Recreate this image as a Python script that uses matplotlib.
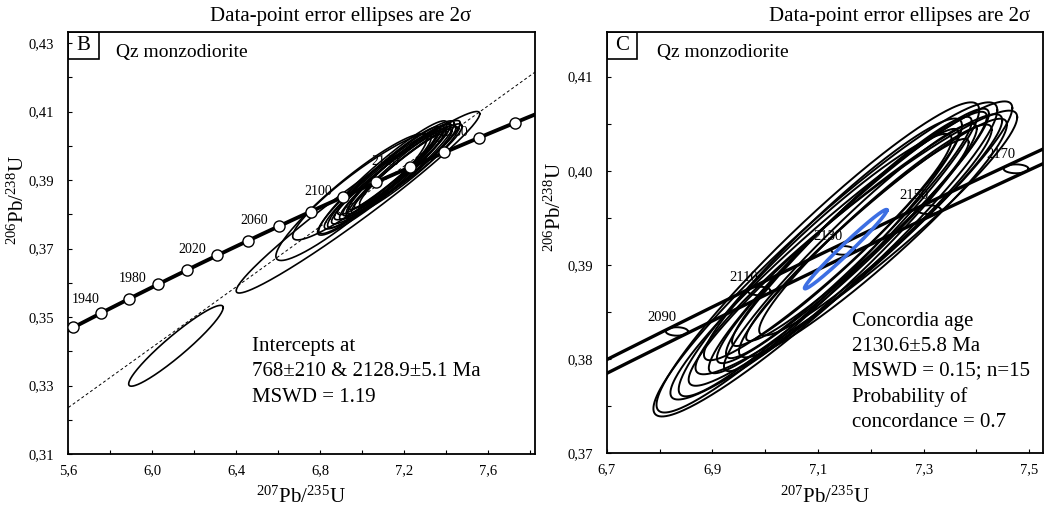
import numpy as np
import matplotlib
matplotlib.use("Agg")
import matplotlib.pyplot as plt
from matplotlib.patches import Rectangle

plt.rcParams['font.family'] = ['Liberation Serif', 'DejaVu Serif']
plt.rcParams['mathtext.fontset'] = 'custom'
plt.rcParams['mathtext.rm'] = 'Liberation Serif'
plt.rcParams['mathtext.it'] = 'Liberation Serif:italic'

# ---------------- data ----------------
L238 = 1.55125e-10   # 1/yr
L235 = 9.8485e-10

# concordant analyses (2-sigma half extents), shown in both panels
conc_x = [7.1139, 7.0997, 7.1442, 7.1726, 7.1584, 7.1641, 7.1584, 7.1518, 7.1746, 7.1519,
          7.2040, 7.1186, 7.2087, 7.1613, 7.1044]
conc_y = [0.39059, 0.39080, 0.39154, 0.39239, 0.39255, 0.39292, 0.39292, 0.39292, 0.39266, 0.39159,
          0.39286, 0.39190, 0.39372, 0.39186, 0.39080]
conc_xerr = [0.3255, 0.3054, 0.3236, 0.3045, 0.2651, 0.2555, 0.2326, 0.2146, 0.2106, 0.2968,
             0.2536, 0.2345, 0.2201, 0.2393, 0.2681]
conc_yerr = [0.01668, 0.01647, 0.01583, 0.01400, 0.01405, 0.01335, 0.01282, 0.01153, 0.01073, 0.01442,
             0.01267, 0.01202, 0.01120, 0.01314, 0.01475]
conc_rho = [0.95, 0.95, 0.955, 0.95, 0.96, 0.96, 0.96, 0.96, 0.965, 0.955,
            0.95, 0.95, 0.95, 0.96, 0.95]

# discordant analyses, shown only in panel B
disc_x = [6.114, 6.981, 6.95, 7.00]
disc_y = [0.3416, 0.3835, 0.3850, 0.3880]
disc_xerr = [0.225, 0.580, 0.360, 0.330]
disc_yerr = [0.0118, 0.0265, 0.0185, 0.0155]
disc_rho = [0.943, 0.975, 0.93, 0.93]

lower_intercept_ma = 768.0
upper_intercept_ma = 2128.9
concordia_age_ma = 2130.6
concordia_age_xerr = 0.078
concordia_age_yerr = 0.0042
concordia_age_rho = 0.985

b_marker_ages = [1900, 1920, 1940, 1960, 1980, 2000, 2020, 2040, 2060, 2080, 2100,
                 2120, 2140, 2160, 2180, 2200, 2220]
b_label_ages = [1940, 1980, 2020, 2060, 2100, 2140, 2180]
c_marker_ages = [2090, 2110, 2130, 2150, 2170]
decay_rel_err_235 = 0.0013
decay_rel_err_238 = 0.0010

b_xticks = [5.6, 6.0, 6.4, 6.8, 7.2, 7.6]
b_yticks = [0.31, 0.33, 0.35, 0.37, 0.39, 0.41, 0.43]
c_xticks = [6.7, 6.9, 7.1, 7.3, 7.5]
c_yticks = [0.37, 0.38, 0.39, 0.40, 0.41]


def concordia(t_ma):
    t = np.asarray(t_ma, dtype=float) * 1e6
    return np.exp(L235 * t) - 1.0, np.exp(L238 * t) - 1.0


def ellipse_xy(cx, cy, hx, hy, rho, n=300):
    th = np.linspace(0, 2 * np.pi, n)
    x = cx + hx * np.cos(th)
    y = cy + hy * (rho * np.cos(th) + np.sqrt(1 - rho ** 2) * np.sin(th))
    return x, y


def comma_fmt(v, nd):
    return (f"{v:.{nd}f}").replace('.', ',')


fig = plt.figure(figsize=(10.44, 5.13), dpi=100)
W, H = 1044.0, 513.0


def px_axes(l, t, r, b):
    return fig.add_axes([l / W, 1 - b / H, (r - l) / W, (b - t) / H])


axB = px_axes(68, 31.7, 535, 454)
axC = px_axes(606.7, 31.7, 1042.5, 453.3)

tick_font = 10.5
for ax in (axB, axC):
    ax.tick_params(direction='in', length=3, width=0.8, which='both', labelsize=tick_font,
                   top=False, right=False)
    ax.tick_params(axis='y', pad=10)
    ax.tick_params(axis='x', pad=7)
    for s in ax.spines.values():
        s.set_linewidth(1.3)

# ---------------- panel B ----------------
axB.set_xlim(5.6, 7.824)
axB.set_ylim(0.31, 0.4333)
axB.set_xticks(b_xticks)
axB.set_yticks(b_yticks)
axB.set_xticks(np.arange(5.6, 7.81, 0.2), minor=True)
axB.set_yticks(np.arange(0.31, 0.4301, 0.01), minor=True)
axB.xaxis.set_major_formatter(plt.FuncFormatter(lambda v, p: comma_fmt(v, 1)))
axB.yaxis.set_major_formatter(plt.FuncFormatter(lambda v, p: comma_fmt(v, 2)))

# discordia line through the two intercepts
xl, yl = concordia(lower_intercept_ma)
xu, yu = concordia(upper_intercept_ma)
xs = np.array([5.0, 8.5])
axB.plot(xs, yl + (yu - yl) / (xu - xl) * (xs - xl), ls=(0, (3, 2.5)), color='black', lw=0.7, zorder=2)

for cx, cy, hx, hy, r in zip(disc_x, disc_y, disc_xerr, disc_yerr, disc_rho):
    ex, ey = ellipse_xy(cx, cy, hx, hy, r)
    axB.plot(ex, ey, color='black', lw=1.2, zorder=3)
for cx, cy, hx, hy, r in zip(conc_x, conc_y, conc_xerr, conc_yerr, conc_rho):
    ex, ey = ellipse_xy(cx, cy, hx, hy, r)
    axB.plot(ex, ey, color='black', lw=1.2, zorder=3)

tc = np.linspace(1850, 2260, 400)
cxl, cyl = concordia(tc)
axB.plot(cxl, cyl, color='black', lw=2.8, zorder=4)
mx, my = concordia(b_marker_ages)
axB.plot(mx, my, 'o', ms=8, mfc='white', mec='black', mew=1.0, zorder=5)
for a in b_label_ages:
    x0, y0 = concordia(a)
    off = (-11, 10) if a == b_label_ages[0] else (-18, 4)
    axB.annotate(str(a), (x0, y0), xytext=off, textcoords='offset points', ha='center',
                 va='center', fontsize=10, zorder=3)

axB.add_patch(Rectangle((0, 1 - 27 / 422.3), 31 / 467, 27 / 422.3, transform=axB.transAxes,
                        fill=False, lw=1.2, ec='black', zorder=6))
axB.text(15.5 / 467, 1 - 13.5 / 422.3, 'B', transform=axB.transAxes, ha='center', va='center', fontsize=15)
axB.text((116 - 68) / 467, 1 - 21 / 422.3, 'Qz monzodiorite', transform=axB.transAxes,
         ha='left', va='center', fontsize=14)
axB.text((252 - 68) / 467, (454 - 372) / 422.3,
         'Intercepts at\n768±210 & 2128.9±5.1 Ma\nMSWD = 1.19', transform=axB.transAxes,
         ha='left', va='center', fontsize=15, linespacing=1.48)

# ---------------- panel C ----------------
axC.set_xlim(6.7, 7.525)
axC.set_ylim(0.37, 0.41477)
axC.set_xticks(c_xticks)
axC.set_yticks(c_yticks)
axC.set_xticks(np.arange(6.7, 7.51, 0.1), minor=True)
axC.set_yticks(np.arange(0.37, 0.4101, 0.005), minor=True)
axC.xaxis.set_major_formatter(plt.FuncFormatter(lambda v, p: comma_fmt(v, 1)))
axC.yaxis.set_major_formatter(plt.FuncFormatter(lambda v, p: comma_fmt(v, 2)))

for cx, cy, hx, hy, r in zip(conc_x, conc_y, conc_xerr, conc_yerr, conc_rho):
    ex, ey = ellipse_xy(cx, cy, hx, hy, r)
    axC.plot(ex, ey, color='black', lw=1.4, zorder=3)

# concordia band with decay-constant uncertainties
tb = np.linspace(2040, 2200, 400)
bx, by = concordia(tb)
a_ = (bx + 1) * L235 * tb * 1e6 * decay_rel_err_235
b_ = (by + 1) * L238 * tb * 1e6 * decay_rel_err_238
m_ = L238 * (by + 1) / (L235 * (bx + 1))
nx, ny = -m_, np.ones_like(m_)
den = np.sqrt(a_ ** 2 * nx ** 2 + b_ ** 2 * ny ** 2)
ox, oy = a_ ** 2 * nx / den, b_ ** 2 * ny / den
axC.plot(bx + ox, by + oy, color='black', lw=2.4, zorder=4)
axC.plot(bx - ox, by - oy, color='black', lw=2.4, zorder=4)
for a in c_marker_ages:
    x0, y0 = concordia(a)
    ea = (x0 + 1) * L235 * a * 1e6 * decay_rel_err_235
    eb = (y0 + 1) * L238 * a * 1e6 * decay_rel_err_238
    ex, ey = ellipse_xy(x0, y0, ea, eb, 0.0)
    axC.plot(ex, ey, color='black', lw=1.4, zorder=4)
    axC.annotate(str(a), (x0, y0), xytext=(-11, 10), textcoords='offset points', ha='center',
                 va='center', fontsize=10.5, zorder=3)

# concordia age ellipse
ax0, ay0 = concordia(concordia_age_ma)
ex, ey = ellipse_xy(ax0, ay0, concordia_age_xerr, concordia_age_yerr, concordia_age_rho)
axC.plot(ex, ey, color='#3d6fe3', lw=2.6, zorder=5)

axC.add_patch(Rectangle((0, 1 - 27 / 421.6), 30 / 435.8, 27 / 421.6, transform=axC.transAxes,
                        fill=False, lw=1.2, ec='black', zorder=6))
axC.text(15 / 435.8, 1 - 13.5 / 421.6, 'C', transform=axC.transAxes, ha='center', va='center', fontsize=15)
axC.text((656.7 - 606.7) / 435.8, 1 - 21 / 421.6, 'Qz monzodiorite', transform=axC.transAxes,
         ha='left', va='center', fontsize=14)
axC.text((851.7 - 606.7) / 435.8, (453.3 - 371.7) / 421.6,
         'Concordia age\n2130.6±5.8 Ma\nMSWD = 0.15; n=15\nProbability of\nconcordance = 0.7',
         transform=axC.transAxes, ha='left', va='center', fontsize=15, linespacing=1.42)

# titles and axis labels
fig.text(341 / W, 1 - 17 / H, 'Data-point error ellipses are 2σ', ha='center', va='center', fontsize=15)
fig.text(900 / W, 1 - 17 / H, 'Data-point error ellipses are 2σ', ha='center', va='center', fontsize=15)
xlab = r'$^{207}$Pb/$^{235}$U'
ylab = r'$^{206}$Pb/$^{238}$U'
fig.text(301 / W, 1 - 497 / H, xlab, ha='center', va='center', fontsize=15)
fig.text(825 / W, 1 - 497 / H, xlab, ha='center', va='center', fontsize=15)
fig.text(18 / W, 1 - 200 / H, ylab, ha='center', va='center', fontsize=15, rotation=90)
fig.text(555 / W, 1 - 207 / H, ylab, ha='center', va='center', fontsize=15, rotation=90)

fig.savefig('out.png', dpi=100)
